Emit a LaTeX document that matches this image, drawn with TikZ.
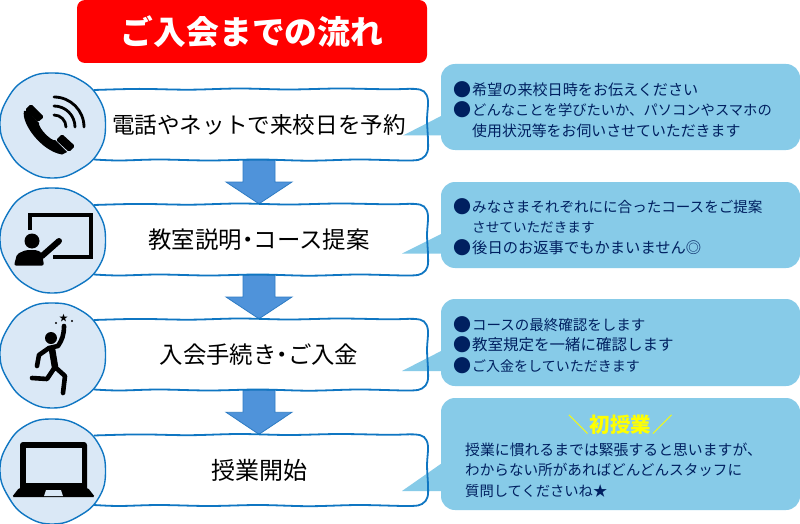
\documentclass[tikz,border=0pt]{standalone}
\usepackage{fontspec}
\setmainfont{Noto Sans CJK JP}
\usepackage{xcolor}
\definecolor{ribbon}{HTML}{FF0000}
\definecolor{wire}{HTML}{0F76C2}
\definecolor{disc}{HTML}{DAE8F6}
\definecolor{flow}{HTML}{4F93DA}
\definecolor{flowline}{HTML}{2E7CC4}
\definecolor{sky}{HTML}{87CBE8}
\definecolor{navy}{HTML}{002060}
\definecolor{sun}{HTML}{FFFF00}
\usetikzlibrary{calc}

\tikzset{
  rowbox/.style={fill=white, minimum width=338pt, minimum height=71pt, inner sep=0pt, font=\fontsize{23.4}{26}\selectfont},
  rowline/.style={draw=wire, line width=1.8pt},
  roundel/.style={circle, fill=disc, minimum size=105pt, inner sep=0pt},
  roundline/.style={draw=wire, line width=1.4pt},
  notebox/.style={fill=sky, rounded corners=14pt, minimum width=359pt, inner sep=0pt},
  notetail/.style={fill=sky},
  notetext/.style={anchor=west, align=left, inner sep=0pt, text=navy, font=\fontsize{14.6}{20.6}\selectfont},
  flowarrow/.style={fill=flow, draw=flowline, line width=0.8pt, line join=miter},
  icon/.style={fill=black, draw=none},
  iconline/.style={draw=black, line cap=round, line join=round}
}
\newcommand{\flowdown}[2]{%
  \draw[flowarrow] ($(#1.south)+(-16,0)$) -- ($(#1.south)+(16,0)$)
    -- ($(#1.south)!0.5!(#2.north)+(16,0)$) -- ($(#1.south)!0.5!(#2.north)+(33,0)$)
    -- (#2.north)
    -- ($(#1.south)!0.5!(#2.north)+(-33,0)$) -- ($(#1.south)!0.5!(#2.north)+(-16,0)$) -- cycle;}
% hand-drawn outlines, offset from a node's centre
\newcommand{\rowoutline}[1]{%
  \draw[rowline, shift={(#1.center)}] plot[smooth, tension=0.55] coordinates {
    (-165,-34.5) (-120,-35.6) (-70,-34.8) (-20,-36) (30,-35) (80,-36) (130,-35.2) (155,-35.6)
    (165,-33) (169,-24) (168,-5) (169,15) (168.5,27) (163,34) (150,36)
    (100,35) (50,36.2) (0,35) (-50,36) (-100,35) (-140,36) (-165,35)};}
\newcommand{\roundoutline}[1]{%
  \draw[roundline, shift={(#1.center)}] plot[smooth cycle, tension=0.75] coordinates {
    (0:52.5) (30:53) (60:52) (90:53) (120:52.5) (150:51.5)
    (180:53) (210:52.5) (240:53) (270:52) (300:52.5) (330:53)};}
% size of one line of a callout
\newcommand{\sz}[1]{\fontsize{#1}{20.6}\selectfont}
\newcommand{\bul}{\makebox[19pt][l]{\fontsize{18}{20.6}\selectfont\raisebox{-1pt}{●}}}
\newcommand{\ind}{\hspace*{19pt}}
\newcommand{\dotmid}{\hspace{-6pt}・\hspace{-6pt}}

\begin{document}
\begin{tikzpicture}[x=1pt, y=-1pt]
  \useasboundingbox[fill=white] (0,0) rectangle (800,524);

  % --- Title ---
  \node[fill=ribbon, rounded corners=8pt, minimum width=350pt, minimum height=63pt, inner sep=0pt,
        text=white, font=\fontsize{32.8}{36}\selectfont\bfseries] (title) at (252,31.5) {\raisebox{1.5pt}{ご入会までの流れ}};

  % --- Steps (fill and text first, the outline comes after the callouts) ---
  \node[rowbox, font=\fontsize{22.6}{26}\selectfont] (boxA) at (259,124.5) {\raisebox{1pt}{電話やネットで来校日を予約}};
  \node[rowbox] (boxB) at (259,239.5) {教室説明\dotmid コース提案};
  \node[rowbox] (boxC) at (259,354.5) {\raisebox{1pt}{入会手続き\dotmid ご入金}};
  \node[rowbox, font=\fontsize{24}{26}\selectfont] (boxD) at (259,470) {\raisebox{2pt}{授業開始}};

  % --- Arrows ---
  \flowdown{boxA}{boxB}
  \flowdown{boxB}{boxC}
  \flowdown{boxC}{boxD}

  % --- Callouts ---
  \node[notebox, minimum height=86pt] (noteA) at (620.5,107) {};
  \fill[notetail] (403,135.5) -- (445,114) -- (445,135.5) -- cycle;
  \node[notetext] (textA) at (453,109.5) {\bul\sz{15.1}希望の来校日時をお伝えください\\\bul\sz{14.3}どんなことを学びたいか、パソコンやスマホの\\\ind\sz{14.9}使用状況等をお伺いさせていただきます};

  \node[notebox, minimum height=86pt] (noteB) at (620.5,225) {};
  \fill[notetail] (402,253.5) -- (445,232) -- (445,253.5) -- cycle;
  \node[notetext] (textB) at (453,227) {\bul\sz{14.55}みなさまそれぞれにに合ったコースをご提案\\\ind\sz{13.6}させていただきます\\\bul\sz{15.3}後日のお返事でもかまいません◎};

  \node[notebox, minimum height=87pt] (noteC) at (620.5,342.5) {};
  \fill[notetail] (402,371) -- (445,349) -- (445,371) -- cycle;
  \node[notetext] (textC) at (453,345) {\bul\sz{14.5}コースの最終確認をします\\\bul\sz{15.5}教室規定を一緒に確認します\\\bul\sz{14}ご入金をしていただきます};

  \node[notebox, minimum height=112pt] (noteD) at (620.5,454) {};
  \fill[notetail] (402,491) -- (445,461) -- (445,491) -- cycle;
  \node[text=sun, inner sep=0pt, font=\fontsize{20.5}{24}\selectfont\bfseries] (firstday) at (620.5,425) {＼\hspace{1pt}初授業\hspace{1pt}／};
  \node[notetext] (textD) at (465,470) {\sz{14.85}授業に慣れるまでは緊張すると思いますが、\\\sz{14.6}わからない所があればどんどんスタッフに\\\sz{14.3}質問してくださいね★};

  % --- Step outlines, over the callout tails ---
  \rowoutline{boxA}
  \rowoutline{boxB}
  \rowoutline{boxC}
  \rowoutline{boxD}

  % --- Icon discs ---
  \node[roundel] (discA) at (53,125) {};
  \node[roundel] (discB) at (53,240) {};
  \node[roundel] (discC) at (53,355) {};
  \node[roundel] (discD) at (53,471) {};
  \roundoutline{discA}
  \roundoutline{discB}
  \roundoutline{discC}
  \roundoutline{discD}

  % Phone
  \fill[icon, rounded corners=1.5pt] (31,104) -- (44,117) -- (38,122) -- (25,110) -- cycle;
  \fill[icon, rounded corners=1.5pt] (62,134) -- (75,146) -- (69,152) -- (56,140) -- cycle;
  \fill[icon] (24,111) .. controls (21,123) and (41,151) .. (62,154.5)
     -- (67,152) -- (55,140) .. controls (52,142) and (38,128) .. (39,123) -- (27,111) -- cycle;
  \draw[iconline, line width=2.8pt] (54,115) arc (-90:0:12);
  \draw[iconline, line width=2.8pt] (54,106) arc (-90:0:21);
  \draw[iconline, line width=2.8pt] (54,97) arc (-90:0:30);

  % Pointing at a board
  \draw[iconline, line width=3.6pt, line cap=butt, line join=miter] (30,230) -- (30,215) -- (91,215) -- (91,257) -- (53,257);
  \fill[icon] (32,241) circle (7.5);
  \fill[icon, rounded corners=2pt] (14,265.5) -- (17,254) -- (26,250) -- (37,250) -- (42,253) -- (44,265.5) -- cycle;
  \draw[iconline, line width=6pt] (36,256) -- (42,256) -- (59,241);

  % Reaching for a star
  \fill[icon] (51,338) circle (6);
  \draw[iconline, line width=4.6pt] (37,366) -- (39,355) -- (49,348) -- (58,346) .. controls (62,340) and (64,335) .. (64,326);
  \draw[iconline, line width=6.5pt] (52,349) -- (55,367);
  \draw[iconline, line width=4.6pt] (32,378) -- (47,379) -- (55,367) -- (65,376) -- (63,393);
  \node[inner sep=0pt, text=black, font=\fontsize{9}{9}\selectfont] (star) at (63.5,318) {★};
  \fill[icon] (56,323) circle (1.2);
  \fill[icon] (72,321) circle (1.2);

  % Laptop
  \fill[icon, rounded corners=3pt] (20,491) -- (20,442) -- (87,442) -- (87,491) -- cycle;
  \fill[disc] (26,448) rectangle (82,483);
  \fill[icon, rounded corners=1.5pt] (19,488) -- (88,488) -- (95,497) -- (12,497) -- cycle;
  \fill[disc] (46,490) -- (61,490) -- (63,496) -- (44,496) -- cycle;
\end{tikzpicture}
\end{document}
